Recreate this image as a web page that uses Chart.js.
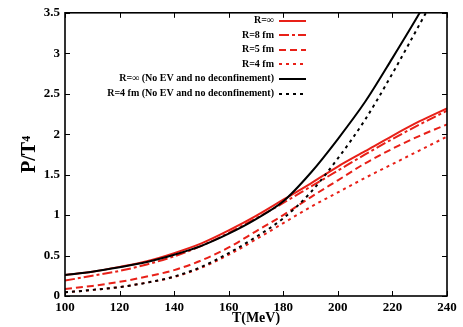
<!DOCTYPE html>
<html>
<head>
<meta charset="utf-8">
<script src="https://cdn.jsdelivr.net/npm/chart.js@4.4.1/dist/chart.umd.min.js"></script>
<style>
html,body{margin:0;padding:0;background:#fff;}
canvas{display:block;}
</style>
</head>
<body>
<canvas id="c" width="463" height="327"></canvas>
<script>
// Temperatures (MeV)
const temps = [100,110,120,130,140,150,160,170,180,190,200,210,220,230,240];
// P/T^4 series
const rInf   = [0.26,0.30,0.36,0.43,0.53,0.65,0.81,0.99,1.19,1.39,1.60,1.79,1.98,2.16,2.32];
const r8     = [0.19,0.25,0.31,0.39,0.49,0.62,0.78,0.96,1.15,1.35,1.55,1.75,1.94,2.12,2.29];
const r5     = [0.085,0.125,0.175,0.24,0.32,0.44,0.60,0.80,1.00,1.22,1.43,1.64,1.82,1.98,2.12];
const r4     = [0.045,0.075,0.11,0.165,0.235,0.35,0.51,0.70,0.90,1.10,1.28,1.46,1.63,1.80,1.97];
const noEvInf = [0.26,0.30,0.355,0.42,0.51,0.62,0.77,0.95,1.17,1.52,1.94,2.40,2.94,3.50,4.10];
const noEvR4  = [0.045,0.075,0.11,0.165,0.24,0.36,0.53,0.73,0.96,1.28,1.70,2.18,2.75,3.36,3.98];
// Labels
const seriesLabels = ['R=\u221E','R=8 fm','R=5 fm','R=4 fm','R=\u221E (No EV and no deconfinement)','R=4 fm (No EV and no deconfinement)'];
const xTicks = [100,120,140,160,180,200,220,240];
const yTicks = [0,0.5,1,1.5,2,2.5,3,3.5];
const xTitle = 'T(MeV)';
const yTitle = 'P/T\u2074';

const RED = 'rgb(232,32,24)';
const BLACK = '#000';
const SERIF = "'Liberation Serif','DejaVu Serif',serif";

function mk(label, data, color, dash, order){
  return {label, data: temps.map((t,i)=>({x:t,y:data[i]})), borderColor: color, backgroundColor: color,
    borderDash: dash, borderWidth: 2, pointRadius: 0, cubicInterpolationMode: 'monotone', fill: false, order};
}
const datasets = [
  mk(seriesLabels[0], rInf, RED, [], 1),
  mk(seriesLabels[1], r8, RED, [10,3,3,3], 1),
  mk(seriesLabels[2], r5, RED, [7,4], 1),
  mk(seriesLabels[3], r4, RED, [3,4], 1),
  mk(seriesLabels[4], noEvInf, BLACK, [], 0),
  mk(seriesLabels[5], noEvR4, BLACK, [3,4], 0),
];

const framePlugin = {
  id: 'frame',
  afterDatasetsDraw(chart){
    const {ctx, chartArea: a, scales} = chart;
    ctx.save();
    ctx.strokeStyle = '#000';
    ctx.lineWidth = 1;
    const tl = 5;
    ctx.beginPath();
    xTicks.forEach(v=>{
      const px = Math.round(scales.x.getPixelForValue(v)) + 0.5;
      ctx.moveTo(px, a.bottom); ctx.lineTo(px, a.bottom - tl);
      ctx.moveTo(px, a.top); ctx.lineTo(px, a.top + tl);
    });
    yTicks.forEach(v=>{
      const py = Math.round(scales.y.getPixelForValue(v)) + 0.5;
      ctx.moveTo(a.left, py); ctx.lineTo(a.left + tl, py);
      ctx.moveTo(a.right, py); ctx.lineTo(a.right - tl, py);
    });
    ctx.stroke();
    ctx.lineWidth = 1.6;
    ctx.strokeRect(a.left, a.top, a.right - a.left, a.bottom - a.top);
    // legend
    ctx.font = "bold 10px " + SERIF;
    ctx.textAlign = 'right';
    ctx.textBaseline = 'middle';
    const textRight = 274, x0 = 279, x1 = 306;
    chart.data.datasets.forEach((ds, i)=>{
      const y = 20.5 + i*14.6;
      ctx.fillStyle = '#000';
      ctx.fillText(ds.label, textRight, y);
      ctx.beginPath();
      ctx.strokeStyle = ds.borderColor;
      ctx.lineWidth = 2;
      ctx.setLineDash(ds.borderDash || []);
      ctx.moveTo(x0, Math.round(y)); ctx.lineTo(x1, Math.round(y));
      ctx.stroke();
      ctx.setLineDash([]);
    });
    ctx.restore();
  }
};

new Chart(document.getElementById('c'), {
  type: 'line',
  data: { datasets },
  options: {
    responsive: false,
    animation: false,
    devicePixelRatio: 1,
    layout: { padding: { top: 9, right: 16, left: 0, bottom: 0 } },
    plugins: { legend: { display: false }, tooltip: { enabled: false } },
    scales: {
      x: {
        type: 'linear', min: 100, max: 240,
        afterBuildTicks(s){ s.ticks = xTicks.map(v=>({value:v})); },
        afterFit(s){ s.height = 31; },
        grid: { display: false, drawTicks: false },
        border: { display: false },
        ticks: { color: '#000', padding: 4, font: { family: SERIF, weight: 'bold', size: 13 }, maxRotation: 0 },
        title: { display: true, text: xTitle, color: '#000', padding: { top: 0, bottom: 0 }, font: { family: SERIF, weight: 'bold', size: 14 } }
      },
      y: {
        type: 'linear', min: 0, max: 3.5,
        afterBuildTicks(s){ s.ticks = yTicks.map(v=>({value:v})); },
        afterFit(s){ s.width = 65; },
        grid: { display: false, drawTicks: false },
        border: { display: false },
        ticks: { color: '#000', padding: 5, font: { family: SERIF, weight: 'bold', size: 13 },
          callback: v => String(v) },
        title: { display: true, text: yTitle, color: '#000', padding: { top: 18, bottom: 0 }, font: { family: SERIF, weight: 'bold', size: 20 } }
      }
    }
  },
  plugins: [framePlugin]
});
</script>
</body>
</html>
